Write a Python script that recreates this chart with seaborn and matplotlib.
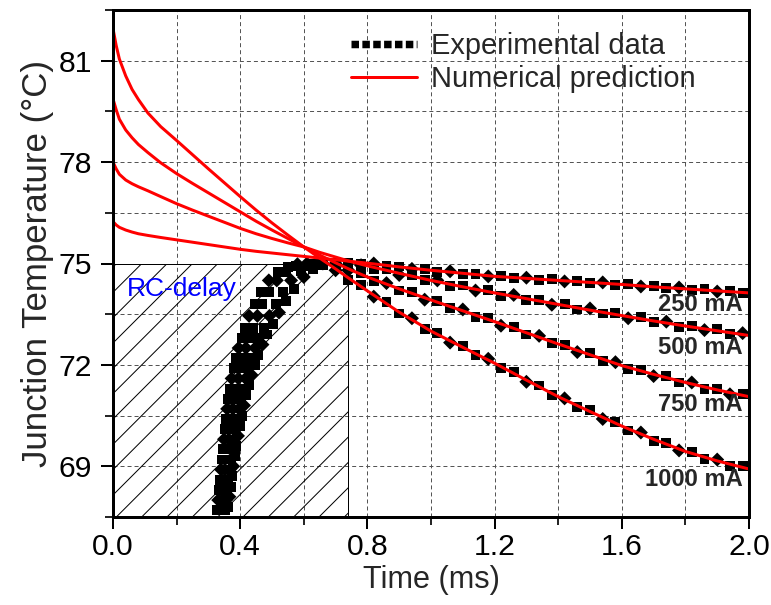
import matplotlib
matplotlib.use('Agg')
import numpy as np
import pandas as pd
import seaborn as sns
import matplotlib.pyplot as plt
from matplotlib.patches import Rectangle
from matplotlib.lines import Line2D
from matplotlib.ticker import MultipleLocator

# ---------------- data ----------------
currents = ['1000 mA', '750 mA', '500 mA', '250 mA']

num_time = [0.0, 0.01, 0.02, 0.04, 0.06, 0.08, 0.11, 0.15, 0.2, 0.25, 0.3, 0.35, 0.4,
            0.45, 0.5, 0.55, 0.6, 0.65, 0.7, 0.75, 0.8, 0.9, 1.0, 1.1, 1.2, 1.3, 1.4,
            1.5, 1.6, 1.7, 1.8, 1.9, 2.0]
num_1000 = [81.95, 81.45, 81.05, 80.55, 80.15, 79.85, 79.45, 79.05, 78.64, 78.22, 77.80,
            77.39, 76.98, 76.58, 76.20, 75.84, 75.49, 75.16, 74.84, 74.51, 74.19, 73.56,
            73.0, 72.52, 72.05, 71.55, 71.06, 70.62, 70.19, 69.8, 69.44, 69.16, 68.92]
num_750 = [79.87, 79.55, 79.27, 78.95, 78.72, 78.52, 78.28, 77.98, 77.66, 77.37, 77.09,
           76.81, 76.53, 76.25, 75.99, 75.74, 75.49, 75.25, 75.02, 74.8, 74.6, 74.25,
           73.92, 73.6, 73.28, 72.95, 72.62, 72.3, 71.98, 71.72, 71.48, 71.26, 71.06]
num_500 = [78.0, 77.8, 77.64, 77.47, 77.36, 77.27, 77.15, 76.98, 76.77, 76.58, 76.4,
           76.22, 76.04, 75.88, 75.74, 75.61, 75.49, 75.33, 75.19, 75.05, 74.93, 74.71,
           74.5, 74.31, 74.13, 73.96, 73.79, 73.62, 73.46, 73.3, 73.15, 73.01, 72.87]
num_250 = [76.24, 76.14, 76.07, 75.99, 75.93, 75.88, 75.83, 75.77, 75.70, 75.63, 75.56,
           75.49, 75.42, 75.36, 75.31, 75.26, 75.21, 75.16, 75.11, 75.06, 75.01, 74.9,
           74.8, 74.71, 74.62, 74.56, 74.5, 74.44, 74.38, 74.31, 74.25, 74.19, 74.13]

exp_decay_time = [0.70, 0.74, 0.78, 0.82, 0.86, 0.90, 0.94, 0.98, 1.02, 1.06, 1.10,
                  1.14, 1.18, 1.22, 1.26, 1.30, 1.34, 1.38, 1.42, 1.46, 1.50, 1.54,
                  1.58, 1.62, 1.66, 1.70, 1.74, 1.78, 1.82, 1.86, 1.90, 1.94, 1.98]

rise_time_1000 = [0.328, 0.331, 0.334, 0.337, 0.340, 0.343, 0.346, 0.349, 0.352, 0.355,
                  0.359, 0.363, 0.368, 0.373, 0.379, 0.386, 0.395, 0.405, 0.415, 0.428,
                  0.445, 0.465, 0.49, 0.52, 0.55, 0.58, 0.62, 0.66]
rise_temp_1000 = [67.7, 68.0, 68.3, 68.6, 68.9, 69.2, 69.5, 69.8, 70.1, 70.4, 70.7, 71.0,
                  71.3, 71.6, 71.9, 72.2, 72.5, 72.8, 73.1, 73.45, 73.8, 74.15, 74.5,
                  74.75, 74.9, 74.98, 75.0, 74.95]
decay_temp_1000 = [74.80, 74.50, 74.36, 74.02, 73.85, 73.52, 73.38, 73.06, 72.94, 72.66,
                   72.56, 72.28, 72.18, 71.90, 71.79, 71.50, 71.39, 71.12, 71.01, 70.75,
                   70.66, 70.40, 70.32, 70.06, 70.00, 69.76, 69.70, 69.47, 69.42, 69.22,
                   69.20, 69.02, 69.00]

rise_time_750 = [0.340, 0.343, 0.346, 0.349, 0.352, 0.356, 0.360, 0.364, 0.368, 0.372,
                 0.377, 0.382, 0.388, 0.394, 0.401, 0.409, 0.418, 0.428, 0.440, 0.454,
                 0.470, 0.490, 0.515, 0.545, 0.575, 0.61, 0.65]
rise_temp_750 = [67.7, 68.0, 68.3, 68.6, 68.9, 69.2, 69.5, 69.8, 70.1, 70.4, 70.7, 71.0,
                 71.3, 71.6, 71.9, 72.2, 72.5, 72.8, 73.1, 73.45, 73.8, 74.15, 74.5,
                 74.75, 74.92, 75.0, 75.02]
decay_temp_750 = [74.95, 74.80, 74.72, 74.48, 74.42, 74.20, 74.16, 73.93, 73.90, 73.68,
                  73.64, 73.42, 73.38, 73.16, 73.12, 72.90, 72.86, 72.64, 72.60, 72.38,
                  72.34, 72.12, 72.08, 71.88, 71.86, 71.67, 71.66, 71.48, 71.48, 71.30,
                  71.30, 71.13, 71.14]

rise_time_500 = [0.352, 0.355, 0.359, 0.363, 0.367, 0.371, 0.375, 0.380, 0.385, 0.390,
                 0.396, 0.402, 0.409, 0.417, 0.426, 0.436, 0.447, 0.460, 0.475, 0.492,
                 0.512, 0.535, 0.56, 0.59, 0.62, 0.66]
rise_temp_500 = [67.7, 68.0, 68.3, 68.6, 68.9, 69.2, 69.5, 69.8, 70.1, 70.4, 70.7, 71.0,
                 71.3, 71.6, 71.9, 72.2, 72.5, 72.8, 73.1, 73.45, 73.8, 74.15, 74.5,
                 74.78, 74.93, 75.0]
decay_temp_500 = [75.02, 74.98, 74.95, 74.84, 74.83, 74.66, 74.67, 74.50, 74.50, 74.34,
                  74.35, 74.20, 74.21, 74.05, 74.07, 73.91, 73.93, 73.78, 73.80, 73.64,
                  73.67, 73.52, 73.54, 73.38, 73.41, 73.26, 73.28, 73.13, 73.16, 73.03,
                  73.05, 72.92, 72.94]

rise_time_250 = [0.362, 0.366, 0.370, 0.374, 0.378, 0.383, 0.388, 0.393, 0.399, 0.405,
                 0.412, 0.419, 0.427, 0.436, 0.446, 0.457, 0.470, 0.485, 0.502, 0.522,
                 0.545, 0.57, 0.60, 0.63, 0.66]
rise_temp_250 = [67.8, 68.1, 68.4, 68.7, 69.0, 69.3, 69.6, 69.9, 70.2, 70.5, 70.8, 71.1,
                 71.4, 71.7, 72.0, 72.3, 72.6, 72.9, 73.2, 73.55, 73.9, 74.25, 74.6,
                 74.85, 74.97]
decay_temp_250 = [75.00, 75.02, 74.98, 75.00, 74.93, 74.91, 74.84, 74.85, 74.76, 74.77,
                  74.69, 74.70, 74.62, 74.63, 74.57, 74.58, 74.52, 74.54, 74.47, 74.48,
                  74.42, 74.44, 74.37, 74.39, 74.32, 74.33, 74.27, 74.29, 74.22, 74.24,
                  74.17, 74.19, 74.12]

label_temps = [68.61, 70.83, 72.52, 73.79]   # y of current labels (1000..250 mA)
rc_delay_end = 0.74
rc_delay_top = 75.0
x_ticks = [0.0, 0.4, 0.8, 1.2, 1.6, 2.0]
y_ticks = [69, 72, 75, 78, 81]

# ---------------- tables ----------------
num_series = [num_1000, num_750, num_500, num_250]
num_df = pd.concat([pd.DataFrame({'time': num_time, 'temp': v, 'current': c})
                    for c, v in zip(currents, num_series)], ignore_index=True)

rise_t = [rise_time_1000, rise_time_750, rise_time_500, rise_time_250]
rise_T = [rise_temp_1000, rise_temp_750, rise_temp_500, rise_temp_250]
decay_T = [decay_temp_1000, decay_temp_750, decay_temp_500, decay_temp_250]
frames = []
for c, rt, rT, dT in zip(currents, rise_t, rise_T, decay_T):
    t = list(rt) + list(exp_decay_time)
    T = list(rT) + list(dT)
    shape = ['D' if i % 3 == 1 else 's' for i in range(len(t))]
    frames.append(pd.DataFrame({'time': t, 'temp': T, 'current': c, 'shape': shape}))
exp_df = pd.concat(frames, ignore_index=True)

# ---------------- style ----------------
DPI = 76
sns.set_style('ticks')
plt.rcParams['font.family'] = ['Liberation Sans', 'DejaVu Sans']
plt.rcParams['hatch.linewidth'] = 0.95
plt.rcParams['hatch.color'] = 'black'

fig = plt.figure(figsize=(772 / DPI, 605 / DPI), dpi=DPI)
ax = fig.add_axes([113 / 772, 88 / 605, 636 / 772, 507 / 605])

ax.set_xlim(0, 2.0)
ax.set_ylim(67.5, 82.5)

# hatched RC-delay region
ax.add_patch(Rectangle((0, 67.5), rc_delay_end, rc_delay_top - 67.5,
                       facecolor='none', edgecolor='black', hatch='/',
                       lw=0.95, zorder=1.5))

sns.scatterplot(data=exp_df, x='time', y='temp', style='shape',
                markers={'s': 's', 'D': 'D'}, color='black', s=88,
                linewidth=0, legend=False, ax=ax, zorder=3)
sns.lineplot(data=num_df, x='time', y='temp', units='current', estimator=None,
             color='red', lw=2.84, sort=False, legend=False, ax=ax, zorder=4)

ax.set_xticks(x_ticks)
ax.set_yticks(y_ticks)
ax.xaxis.set_minor_locator(MultipleLocator(0.2))
ax.yaxis.set_minor_locator(MultipleLocator(1.5))
ax.set_xticklabels([f'{v:.1f}' for v in x_ticks])
ax.set_yticklabels([str(v) for v in y_ticks])

ax.grid(True, which='both', color='#555555', lw=0.95, linestyle=(0, (4, 3)), zorder=0)
ax.set_axisbelow(True)

for sp in ax.spines.values():
    sp.set_visible(True)
    sp.set_linewidth(2.84)
    sp.set_color('black')
    sp.set_zorder(6)

ax.tick_params(axis='both', which='major', direction='out', length=11, width=1.9,
               labelsize=28.5, top=False, right=False, colors='black')
ax.tick_params(axis='x', which='major', pad=4)
ax.tick_params(axis='y', which='major', pad=9)
ax.tick_params(axis='both', which='minor', direction='out', length=8, width=1.9,
               top=False, right=False)

ax.set_xlabel('Time (ms)', fontsize=29, labelpad=4)
ax.set_ylabel('Junction Temperature (°C)', fontsize=33, labelpad=4)

ax.text(0.044, 74.25, 'RC-delay', color='#0000ff', fontsize=25,
        ha='left', va='center', zorder=5)
for c, yv in zip(currents, label_temps):
    ax.text(1.981, yv, c, fontsize=22.5, fontweight='bold', ha='right',
            va='center', zorder=5)

handles = [Line2D([], [], color='black', lw=7.1, linestyle=(0, (1, 0.45)),
                  dash_capstyle='butt'),
           Line2D([], [], color='red', lw=2.84)]
ax.legend(handles, ['Experimental data', 'Numerical prediction'], loc='upper left',
          bbox_to_anchor=(0.375, 0.957), frameon=False, fontsize=27.5,
          handlelength=2.25, handletextpad=0.5, labelspacing=0.18,
          borderpad=0, borderaxespad=0)

fig.savefig('out.png', dpi=DPI)
